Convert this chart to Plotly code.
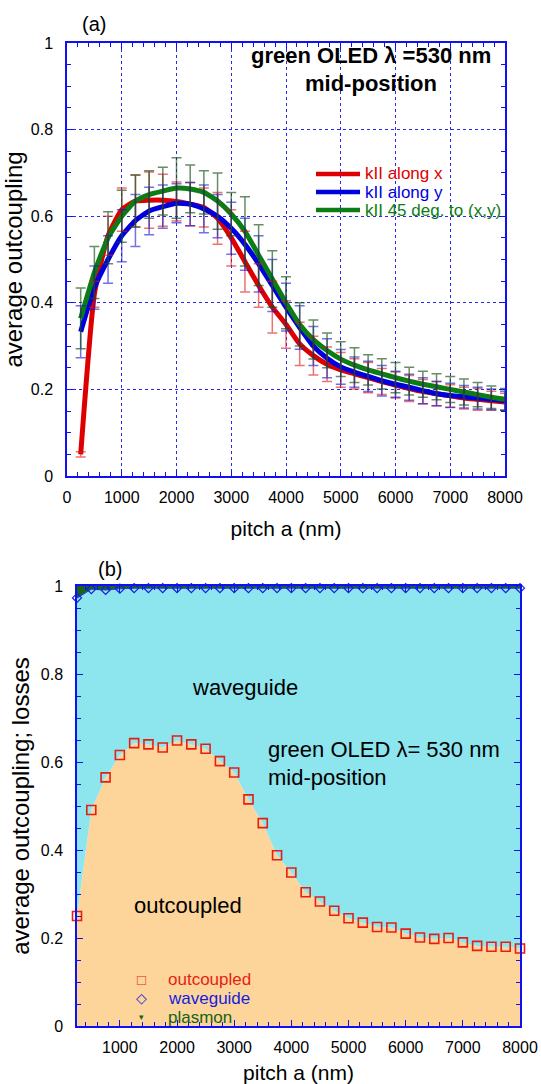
import plotly.graph_objects as go

# ---------------- data ----------------
pitch_nm = [250, 500, 750, 1000, 1250, 1500, 1750, 2000, 2250, 2500, 2750, 3000,
            3250, 3500, 3750, 4000, 4250, 4500, 4750, 5000, 5250, 5500, 5750, 6000,
            6250, 6500, 6750, 7000, 7250, 7500, 7750, 8000]

# panel (a): average outcoupling for three in-plane k directions
kx_along_x = [0.05, 0.42, 0.555, 0.615, 0.635, 0.637, 0.637, 0.634, 0.628, 0.62, 0.595, 0.55,
              0.495, 0.44, 0.39, 0.35, 0.305, 0.278, 0.258, 0.245, 0.236, 0.227, 0.218, 0.21,
              0.202, 0.195, 0.19, 0.185, 0.18, 0.177, 0.174, 0.171]
kx_along_y = [0.333, 0.435, 0.50, 0.555, 0.59, 0.612, 0.622, 0.63, 0.628, 0.617, 0.60, 0.572,
              0.535, 0.49, 0.44, 0.39, 0.343, 0.30, 0.272, 0.252, 0.24, 0.23, 0.22, 0.212,
              0.205, 0.197, 0.19, 0.186, 0.183, 0.18, 0.177, 0.174]
kx_45deg = [0.364, 0.47, 0.55, 0.60, 0.635, 0.65, 0.658, 0.665, 0.663, 0.655, 0.635, 0.605,
            0.565, 0.51, 0.455, 0.40, 0.35, 0.315, 0.29, 0.27, 0.256, 0.245, 0.236, 0.227,
            0.219, 0.212, 0.206, 0.20, 0.194, 0.188, 0.182, 0.177]
err_x = [0.006, 0.03, 0.045, 0.05, 0.06, 0.065, 0.06, 0.045, 0.05, 0.045, 0.06, 0.065,
         0.07, 0.05, 0.06, 0.055, 0.05, 0.045, 0.04, 0.04, 0.035, 0.035, 0.03, 0.03,
         0.03, 0.028, 0.028, 0.026, 0.025, 0.025, 0.022, 0.02]
err_y = [0.06, 0.05, 0.055, 0.06, 0.06, 0.055, 0.05, 0.045, 0.05, 0.055, 0.05, 0.06,
         0.06, 0.065, 0.06, 0.055, 0.05, 0.045, 0.045, 0.04, 0.035, 0.035, 0.035, 0.03,
         0.03, 0.03, 0.028, 0.028, 0.026, 0.025, 0.024, 0.022]
err_45 = [0.07, 0.06, 0.06, 0.06, 0.06, 0.055, 0.055, 0.07, 0.055, 0.05, 0.065, 0.05,
          0.08, 0.07, 0.065, 0.06, 0.05, 0.045, 0.04, 0.04, 0.04, 0.035, 0.035, 0.035,
          0.032, 0.03, 0.03, 0.03, 0.03, 0.028, 0.026, 0.025]

# panel (b): cumulative fractions (outcoupled, + waveguide, + plasmon)
outcoupled = [0.25, 0.491, 0.565, 0.616, 0.643, 0.640, 0.633, 0.649, 0.640, 0.630, 0.602, 0.576,
              0.515, 0.461, 0.388, 0.349, 0.304, 0.283, 0.262, 0.245, 0.235, 0.225, 0.224, 0.210,
              0.201, 0.198, 0.200, 0.190, 0.182, 0.180, 0.180, 0.176]
waveguide_cum = [0.973, 0.993, 0.991, 0.994, 0.995, 0.995, 0.995, 0.995, 0.995, 0.995, 0.995, 0.995,
                 0.995, 0.995, 0.995, 0.995, 0.995, 0.995, 0.995, 0.995, 0.995, 0.995, 0.995, 0.995,
                 0.995, 0.995, 0.995, 0.995, 0.995, 0.995, 0.995, 0.995]
plasmon_cum = [1.0] * len(pitch_nm)

x_ticks_a = [0, 1000, 2000, 3000, 4000, 5000, 6000, 7000, 8000]
x_ticks_b = [1000, 2000, 3000, 4000, 5000, 6000, 7000, 8000]
y_ticks = [0, 0.2, 0.4, 0.6, 0.8, 1]

# ---------------- styling ----------------
W, H = 541, 1084
FONT = "Liberation Sans, Arial, Helvetica, sans-serif"
AX = "#1010f0"
RED, BLUE, GREEN = "rgb(222,0,0)", "rgb(0,0,222)", "rgb(12,125,20)"


def px(x):
    return x / W


def py(y):
    return 1 - y / H


fig = go.Figure()

# ---- panel (a) ----
for vals, col in [(kx_along_x, RED), (kx_along_y, BLUE), (kx_45deg, GREEN)]:
    fig.add_trace(go.Scatter(x=pitch_nm, y=vals, mode="lines",
                             line=dict(color=col, width=5, shape="spline", smoothing=0.5),
                             xaxis="x", yaxis="y", showlegend=False, hoverinfo="skip"))
for vals, err, col in [(kx_along_x, err_x, "rgba(225,20,20,0.6)"),
                       (kx_along_y, err_y, "rgba(20,20,210,0.6)"),
                       (kx_45deg, err_45, "rgba(20,80,20,0.65)")]:
    fig.add_trace(go.Scatter(x=pitch_nm, y=vals, mode="markers",
                             marker=dict(size=1, color="rgba(0,0,0,0)"),
                             error_y=dict(type="data", array=err, visible=True,
                                          color=col, thickness=1.5, width=5),
                             xaxis="x", yaxis="y", showlegend=False, hoverinfo="skip"))

# ---- panel (b) ----
fig.add_trace(go.Scatter(x=pitch_nm, y=outcoupled, mode="lines", line=dict(width=0, color="rgb(253,213,155)"),
                         fill="tozeroy", fillcolor="rgb(253,213,155)", xaxis="x2", yaxis="y2",
                         showlegend=False, hoverinfo="skip"))
fig.add_trace(go.Scatter(x=pitch_nm, y=waveguide_cum, mode="lines", line=dict(width=1.2, color="rgb(40,60,220)"),
                         fill="tonexty", fillcolor="rgb(141,229,238)", xaxis="x2", yaxis="y2",
                         showlegend=False, hoverinfo="skip"))
fig.add_trace(go.Scatter(x=pitch_nm, y=plasmon_cum, mode="lines", line=dict(width=0, color="rgb(25,100,25)"),
                         fill="tonexty", fillcolor="rgb(25,100,25)", xaxis="x2", yaxis="y2",
                         showlegend=False, hoverinfo="skip"))
fig.add_trace(go.Scatter(x=pitch_nm, y=outcoupled, mode="markers", cliponaxis=False,
                         marker=dict(symbol="square-open", size=9, color="rgb(230,30,20)",
                                     line=dict(width=1.6, color="rgb(230,30,20)")),
                         xaxis="x2", yaxis="y2", showlegend=False, hoverinfo="skip"))
fig.add_trace(go.Scatter(x=pitch_nm, y=waveguide_cum, mode="markers", cliponaxis=False,
                         marker=dict(symbol="diamond-open", size=7, color="rgb(20,30,220)",
                                     line=dict(width=1.2, color="rgb(20,30,220)")),
                         xaxis="x2", yaxis="y2", showlegend=False, hoverinfo="skip"))
fig.add_trace(go.Scatter(x=pitch_nm, y=plasmon_cum, mode="markers", cliponaxis=False,
                         marker=dict(symbol="triangle-down", size=4, color="rgb(20,100,20)"),
                         xaxis="x2", yaxis="y2", showlegend=False, hoverinfo="skip"))

axis_common = dict(showline=True, linecolor=AX, linewidth=1.5, mirror="allticks",
                   ticks="inside", tickcolor=AX, ticklen=6, tickwidth=1.2, automargin=False,
                   tickfont=dict(family=FONT, size=16, color="black"),
                   zeroline=False)
XT = dict(family=FONT, size=21, color="black")
YT = dict(family=FONT, size=24, color="black")

fig.update_layout(
    template="none",
    width=W, height=H, autosize=False,
    margin=dict(l=0, r=0, t=0, b=0, pad=0),
    paper_bgcolor="white", plot_bgcolor="white",
    font=dict(family=FONT, color="black"),
    xaxis=dict(axis_common, domain=[px(67), px(505)], range=[0, 8000], tickvals=x_ticks_a,
               showgrid=True, gridcolor="rgb(40,40,240)", griddash="dot", gridwidth=1,
               minor=dict(ticks="inside", dtick=200, ticklen=4, tickcolor=AX, showgrid=False),
               anchor="y", ticklabelstandoff=6,
               title=dict(text="pitch a (nm)", standoff=16, font=XT)),
    yaxis=dict(axis_common, domain=[py(476), py(43)], range=[0, 1], tickvals=y_ticks,
               showgrid=True, gridcolor="rgb(40,40,240)", griddash="dot", gridwidth=1,
               minor=dict(ticks="inside", dtick=0.05, ticklen=4, tickcolor=AX, showgrid=False),
               anchor="x", ticklabelstandoff=9,
               title=dict(text="average outcoupling", standoff=4, font=YT)),
    xaxis2=dict(axis_common, domain=[px(77), px(520)], range=[250, 8000], tickvals=x_ticks_b,
                showgrid=False,
                minor=dict(ticks="inside", dtick=200, ticklen=4, tickcolor=AX, showgrid=False),
                anchor="y2", ticklabelstandoff=6,
                title=dict(text="pitch a (nm)", standoff=14, font=XT)),
    yaxis2=dict(axis_common, domain=[py(1026), py(586)], range=[0, 1], tickvals=y_ticks,
                showgrid=False,
                minor=dict(ticks="inside", dtick=0.05, ticklen=4, tickcolor=AX, showgrid=False),
                anchor="x2", ticklabelstandoff=9,
                title=dict(text="average outcoupling; losses", standoff=4, font=YT)),
)

ann = []


def text(x, y, s, size, color="black", xanchor="center", bold=False):
    ann.append(dict(x=px(x), y=py(y), xref="paper", yref="paper", text=(f"<b>{s}</b>" if bold else s),
                    showarrow=False, xanchor=xanchor, yanchor="middle",
                    font=dict(family=FONT, size=size, color=color)))


text(94, 24, "(a)", 20)
text(371, 55, "green OLED λ =530 nm", 22, bold=True)
text(371, 83, "mid-position", 22, bold=True)
text(110, 569, "(b)", 20)
text(245, 687, "waveguide", 22)
text(266, 749, "green OLED λ= 530 nm", 22, xanchor="left")
text(266, 777, "mid-position", 22, xanchor="left")
text(188, 905, "outcoupled", 22)

# legend (a)
shapes = []
for yy, col, label in [(174, RED, "kII along x"), (192, BLUE, "kII along y"),
                       (210, GREEN, "kII 45 deg. to (x,y)")]:
    shapes.append(dict(type="line", xref="paper", yref="paper", x0=px(316), x1=px(360),
                       y0=py(yy), y1=py(yy), line=dict(color=col, width=4.5)))
    text(363, yy, label, 17, color=col, xanchor="left")

# legend (b)
for yy, col, sym, label, sz in [(979, "rgb(230,30,20)", "□", "outcoupled", 15),
                                (998, "rgb(20,30,220)", "◇", "waveguide", 14),
                                (1017, "rgb(20,100,20)", "▾", "plasmon", 9)]:
    text(141, yy, sym, sz, color=col)
    text(166, yy, label, 17, color=col, xanchor="left")

fig.update_layout(annotations=ann, shapes=shapes)
fig.write_html("out.html", config={"displayModeBar": False},
               post_script="document.body.style.margin='0';document.body.style.overflow='hidden';")
